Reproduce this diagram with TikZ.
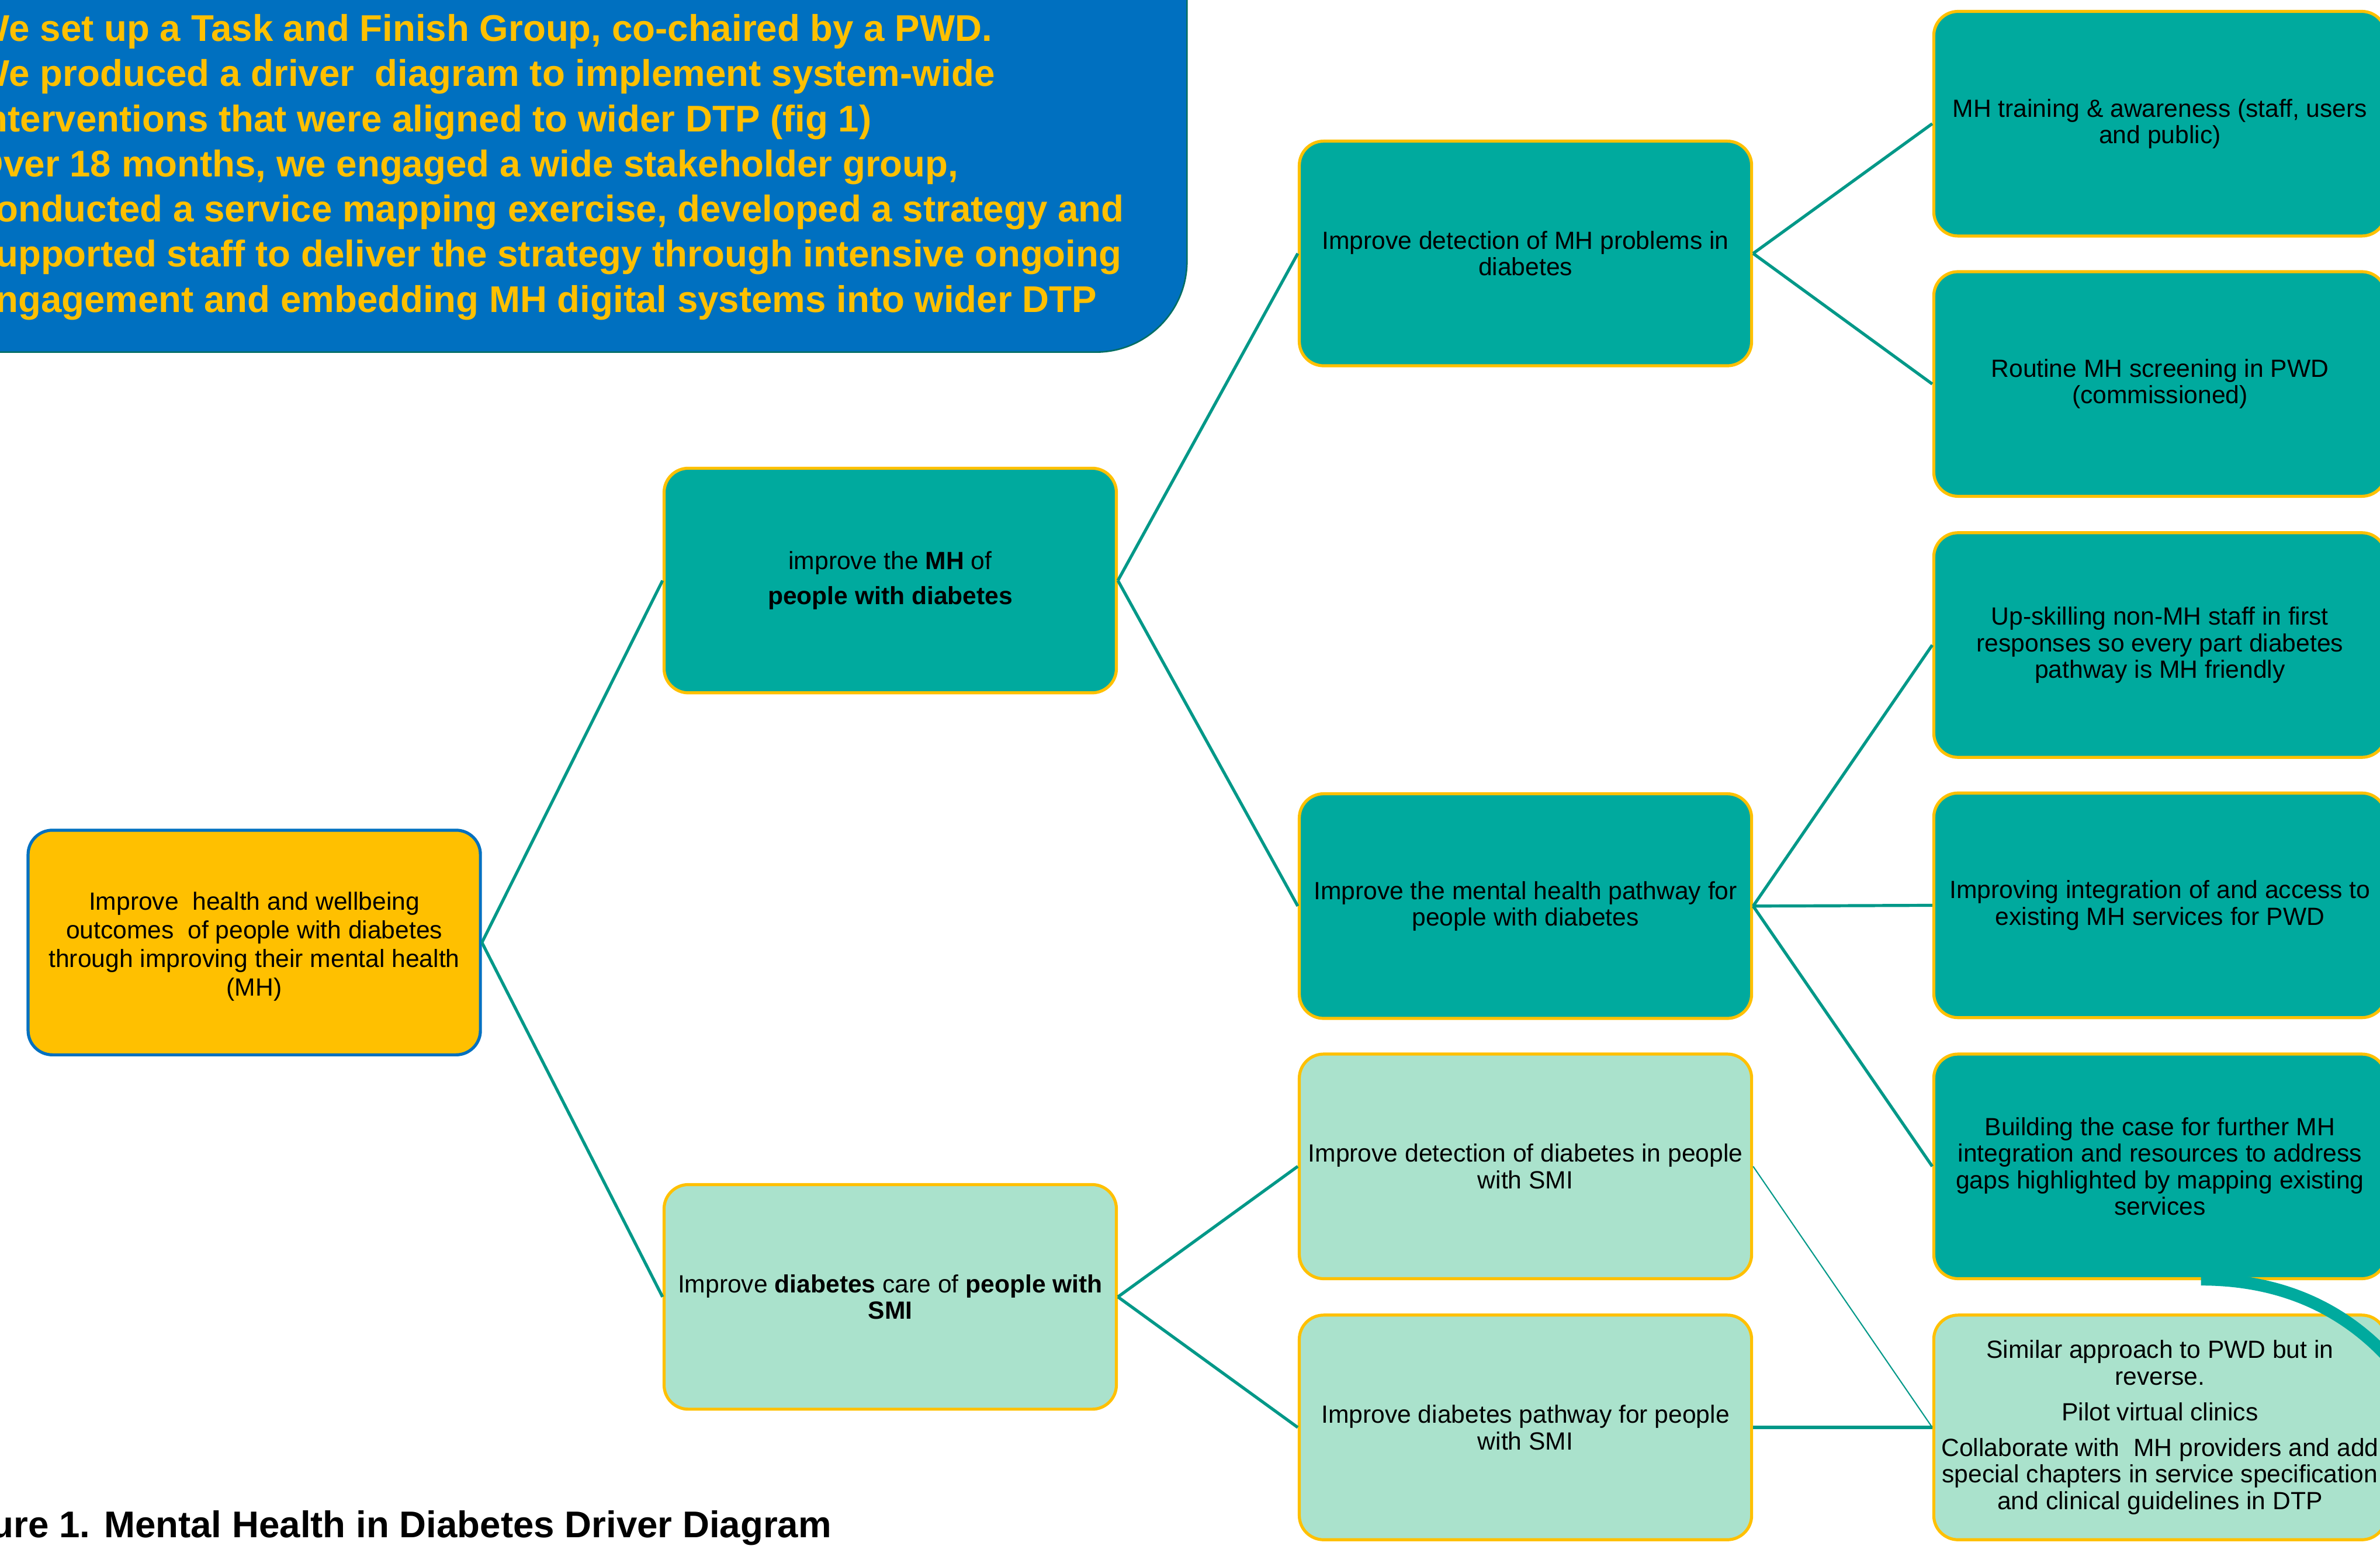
\documentclass[tikz,border=0pt]{standalone}
\usepackage{fontspec}
\setmainfont{Liberation Sans}
\definecolor{boxteal}{RGB}{0,170,158}
\definecolor{boxlight}{RGB}{170,226,204}
\definecolor{gold}{RGB}{255,192,0}
\definecolor{bluebg}{RGB}{0,112,192}
\definecolor{lineteal}{RGB}{0,152,136}
\definecolor{edgeteal}{RGB}{0,110,100}
\begin{document}
\begin{tikzpicture}[x=0.5pt,y=-0.5pt,
  box/.style={rectangle, rounded corners=8pt, minimum width=149pt, minimum height=74pt,
    line width=1pt, align=center, inner sep=2pt, font=\fontsize{8.2}{8.75}\selectfont},
  dark/.style={box, fill=boxteal, draw=gold},
  light/.style={box, fill=boxlight, draw=gold},
  rootbox/.style={box, fill=gold, draw=bluebg, font=\fontsize{8.2}{9.45}\selectfont},
  conn/.style={draw=lineteal, line width=1pt},
  thinconn/.style={draw=lineteal, line width=0.4pt},
  bigfont/.style={font=\fontsize{12.25}{14.875}\selectfont\bfseries}
]
\useasboundingbox (0,0) rectangle (1568,1018.26);

% intro panel
\path[fill=bluebg, draw=edgeteal, line width=0.5pt, rounded corners=30pt] (-200,-200) rectangle (782,232);
\node[anchor=north west, inner sep=0pt, align=left, text=gold, bigfont] (intro) at (-17,9)
{We set up a Task and Finish Group, co-chaired by a PWD.\\
We produced a driver\ \ diagram to implement system-wide\\
interventions that were aligned to wider DTP (fig 1)\\
Over 18 months, we engaged a wide stakeholder group,\\
conducted a service mapping exercise, developed a strategy and\\
supported staff to deliver the strategy through intensive ongoing\\
engagement and embedding MH digital systems into wider DTP};

% caption
\node[anchor=base west, inner sep=0pt, bigfont] (cap) at (-43,1013)
{Figure 1. Mental Health in Diabetes Driver Diagram};

% nodes
\node[rootbox] (root) at (167.5,621)
{\raisebox{-1.3pt}[\height][\depth]{\parbox{140pt}{\centering Improve\ \ health and wellbeing\\outcomes\ \ of people with diabetes\\through improving their mental health\\(MH)}}};

\node[dark] (L1a) at (586.5,382.5)
{improve the \textbf{MH} of\\[2.75pt]\textbf{people with diabetes}};
\node[light] (L1b) at (586.5,854.5)
{Improve \textbf{diabetes} care of \textbf{people with}\\\textbf{SMI}};

\node[dark] (L2a) at (1005,167)
{Improve detection of MH problems in\\diabetes};
\node[dark] (L2b) at (1005,597)
{Improve the mental health pathway for\\people with diabetes};
\node[light] (L2c) at (1005,768.5)
{Improve detection of diabetes in people\\with SMI};
\node[light] (L2d) at (1005,940.5)
{Improve diabetes pathway for people\\with SMI};

\node[dark] (L3a) at (1423,81.5)
{MH training \& awareness (staff, users\\and public)};
\node[dark] (L3b) at (1423,253)
{Routine MH screening in PWD\\(commissioned)};
\node[dark] (L3c) at (1423,425)
{Up-skilling non-MH staff in first\\responses so every part diabetes\\pathway is MH friendly};
\node[dark] (L3d) at (1423,596.5)
{Improving integration of and access to\\existing MH services for PWD};
\node[dark] (L3e) at (1423,768.5)
{Building the case for further MH\\integration and resources to address\\gaps highlighted by mapping existing\\services};
\node[light] (L3f) at (1423,940.5)
{Similar approach to PWD but in\\reverse.\\[3pt]Pilot virtual clinics\\[3pt]Collaborate with\ \ MH providers and add\\special chapters in service specification\\and clinical guidelines in DTP};

% connectors
\draw[conn] (root.east) -- (L1a.west);
\draw[conn] (root.east) -- (L1b.west);
\draw[conn] (L1a.east) -- (L2a.west);
\draw[conn] (L1a.east) -- (L2b.west);
\draw[conn] (L1b.east) -- (L2c.west);
\draw[conn] (L1b.east) -- (L2d.west);
\draw[conn] (L2a.east) -- (L3a.west);
\draw[conn] (L2a.east) -- (L3b.west);
\draw[conn] (L2b.east) -- (L3c.west);
\draw[conn] (L2b.east) -- (L3d.west);
\draw[conn] (L2b.east) -- (L3e.west);
\draw[conn] (L2d.east) -- (L3f.west);
\draw[thinconn] (L2c.east) -- (L3f.west);

% thick curved stroke leaving the picture
\draw[boxteal, line width=4pt] (1450,843) .. controls (1500,843) and (1545,860) .. (1580,902);
\end{tikzpicture}
\end{document}
